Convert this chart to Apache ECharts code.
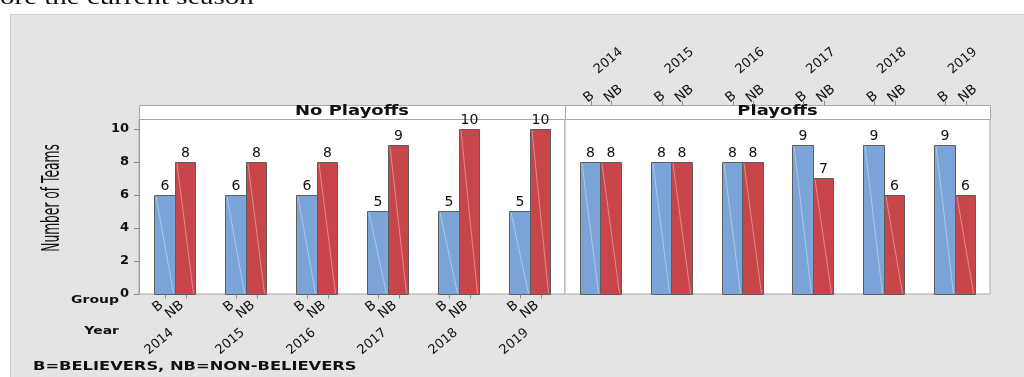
<!DOCTYPE html>
<html>
<head>
<meta charset="utf-8">
<script src="https://cdn.jsdelivr.net/npm/echarts@6/dist/echarts.min.js"></script>
<style>
  html, body { margin: 0; padding: 0; background: #ffffff; }
  #chart { width: 1024px; height: 377px; }
</style>
</head>
<body>
<div id="chart"></div>
<script>
// Team counts by season, split by playoff outcome and group
const years = ['2014', '2015', '2016', '2017', '2018', '2019'];
const groups = ['B', 'NB'];
const noPlayoffsB  = [6, 6, 6, 5, 5, 5];
const noPlayoffsNB = [8, 8, 8, 9, 10, 10];
const playoffsB    = [8, 8, 8, 9, 9, 9];
const playoffsNB   = [8, 8, 8, 7, 6, 6];
const yTicks = [0, 2, 4, 6, 8, 10];
const panelTitles = ['No Playoffs', 'Playoffs'];

// Panel layout (pixels)
const PANEL_LEFT = 139, PANEL_MID = 565, PANEL_RIGHT = 990;
const PLOT_TOP = 119, PLOT_BOTTOM = 294, STRIP_H = 14;
const Y_MAX = 10.6;
const BAR_FRAC = 0.29;          // bar width as a share of the category band
const SLANT = 40 * Math.PI / 180;

const FILLS = ['#7BA5D8', '#C8464A'];
const BAR_EDGE = '#5E5E5E';
const FONT = '"DejaVu Sans", "Noto Sans", sans-serif';

// Pixel span of bar k (0 = B, 1 = NB) in a category centred at cx
function barSpan(cx, catW, k) {
  const barW = catW * BAR_FRAC;
  const x0 = cx + (k - 1) * barW;
  const left = Math.round(x0) + 0.5;
  const right = Math.round(x0 + barW) + 0.5;
  return { left: left, right: right, mid: (left + right) / 2 };
}

function makeRenderer(labelsBelow) {
  return function (params, api) {
    const idx = api.value(0);
    const vals = [api.value(1), api.value(2)];
    const base = api.coord([idx, 0]);
    const catW = api.size([1, 0])[0];
    const stripTop = params.coordSys.y - STRIP_H;
    const bottom = Math.round(base[1]) + 0.5;
    const children = [];

    for (let k = 0; k < 2; k++) {
      const span = barSpan(base[0], catW, k);
      const top = Math.round(api.coord([idx, vals[k]])[1]) + 0.5;
      const tickX = Math.round(span.mid) + 0.5;

      children.push({
        type: 'rect',
        shape: { x: span.left, y: top, width: span.right - span.left, height: bottom - top },
        style: { fill: FILLS[k], stroke: BAR_EDGE, lineWidth: 1 }
      });
      children.push({
        type: 'line',
        shape: { x1: span.left + 1.5, y1: top + 1, x2: span.right - 2, y2: bottom - 1 },
        style: { stroke: 'rgba(255,255,255,0.38)', lineWidth: 1 }
      });
      children.push({
        type: 'text',
        style: {
          x: span.mid, y: top - 2,
          text: String(vals[k]), fill: '#111', font: '14px ' + FONT,
          align: 'center', verticalAlign: 'bottom',
          textAlign: 'center', textVerticalAlign: 'bottom'
        }
      });
      children.push({
        type: 'line',
        shape: labelsBelow
          ? { x1: tickX, y1: bottom, x2: tickX, y2: bottom + 4 }
          : { x1: tickX, y1: stripTop - 4, x2: tickX, y2: stripTop },
        style: { stroke: '#888', lineWidth: 1 }
      });
    }
    return { type: 'group', children: children };
  };
}

function seriesData(bVals, nbVals) {
  return years.map((y, i) => [i, bVals[i], nbVals[i]]);
}

// Slanted text reading upward to the right
function slantLabel(x, y, text, align, size) {
  return {
    type: 'text', z: 5, x: x, y: y, rotation: SLANT,
    style: {
      text: text, fill: '#111', font: size + 'px ' + FONT,
      align: align, verticalAlign: 'middle',
      textAlign: align, textVerticalAlign: 'middle'
    }
  };
}

function plainText(x, y, text, font, align, scaleY) {
  return {
    type: 'text', z: 1, x: x, y: y, scaleY: scaleY,
    style: {
      text: text, fill: '#111', font: font,
      align: align, verticalAlign: 'middle',
      textAlign: align, textVerticalAlign: 'middle'
    }
  };
}

const chart = echarts.init(document.getElementById('chart'), null, { renderer: 'canvas' });

const option = {
  animation: false,
  grid: [
    { left: PANEL_LEFT, top: PLOT_TOP, width: PANEL_MID - PANEL_LEFT, height: PLOT_BOTTOM - PLOT_TOP,
      show: true, backgroundColor: '#ffffff', borderColor: '#A8A8A8', borderWidth: 1 },
    { left: PANEL_MID, top: PLOT_TOP, width: PANEL_RIGHT - PANEL_MID, height: PLOT_BOTTOM - PLOT_TOP,
      show: true, backgroundColor: '#ffffff', borderColor: '#A8A8A8', borderWidth: 1 }
  ],
  xAxis: [
    { gridIndex: 0, type: 'category', data: years, boundaryGap: true, show: false },
    { gridIndex: 1, type: 'category', data: years, boundaryGap: true, show: false }
  ],
  yAxis: [
    {
      gridIndex: 0, type: 'value', min: 0, max: Y_MAX, interval: 2,
      axisLine: { show: true, lineStyle: { color: '#999', width: 1 } },
      axisTick: { show: true, length: 5, lineStyle: { color: '#888' }, customValues: yTicks },
      axisLabel: { show: true, margin: 10, color: '#111', fontFamily: 'DejaVu Sans',
        fontWeight: 'bold', fontSize: 13, customValues: yTicks },
      splitLine: { show: false }
    },
    { gridIndex: 1, type: 'value', min: 0, max: Y_MAX, interval: 2, show: false, splitLine: { show: false } }
  ],
  series: [
    {
      name: panelTitles[0], type: 'custom', xAxisIndex: 0, yAxisIndex: 0,
      renderItem: makeRenderer(true), data: seriesData(noPlayoffsB, noPlayoffsNB),
      encode: { x: 0, y: [1, 2] }, clip: false, z: 3
    },
    {
      name: panelTitles[1], type: 'custom', xAxisIndex: 1, yAxisIndex: 1,
      renderItem: makeRenderer(false), data: seriesData(playoffsB, playoffsNB),
      encode: { x: 0, y: [1, 2] }, clip: false, z: 3
    }
  ]
};

chart.setOption(option);

// Frame, strips, titles and the slanted group / year labels
const elements = [
  {
    type: 'rect', z: -100,
    shape: { x: 10.5, y: 14.5, width: 1030, height: 380 },
    style: { fill: '#E4E4E4', stroke: '#CDCDCD', lineWidth: 1 }
  },
  plainText(-37, -1.5, 'before the current season',
    '29px "Liberation Serif", "DejaVu Serif", serif', 'left', 0.7),
  {
    type: 'text', z: 1, x: 52, y: 198, rotation: Math.PI / 2, scaleX: 0.49,
    style: {
      text: 'Number of Teams', fill: '#111', font: '25px ' + FONT,
      align: 'center', verticalAlign: 'middle',
      textAlign: 'center', textVerticalAlign: 'middle'
    }
  },
  plainText(119, 300, 'Group', 'bold 14px ' + FONT, 'right', 0.8),
  plainText(119, 331, 'Year', 'bold 14px ' + FONT, 'right', 0.8),
  plainText(33, 367, 'B=BELIEVERS, NB=NON-BELIEVERS', 'bold 16.3px ' + FONT, 'left', 0.72)
];

[[PANEL_LEFT, PANEL_MID], [PANEL_MID, PANEL_RIGHT]].forEach((p, g) => {
  elements.push({
    type: 'rect', z: 1,
    shape: { x: p[0] + 0.5, y: PLOT_TOP - STRIP_H + 0.5, width: p[1] - p[0], height: STRIP_H },
    style: { fill: '#ffffff', stroke: '#A8A8A8', lineWidth: 1 }
  });
  elements.push(Object.assign(
    plainText((p[0] + p[1]) / 2, PLOT_TOP - STRIP_H / 2 - 0.5, panelTitles[g], 'bold 18px ' + FONT, 'center', 0.82),
    { z: 2 }));

  const below = g === 0;
  const c0 = chart.convertToPixel({ gridIndex: g }, [0, 0]);
  const c1 = chart.convertToPixel({ gridIndex: g }, [1, 0]);
  const catW = c1[0] - c0[0];
  years.forEach((yr, i) => {
    const c = chart.convertToPixel({ gridIndex: g }, [i, 0]);
    const bottom = Math.round(c[1]) + 0.5;
    const stripTop = PLOT_TOP - STRIP_H;
    groups.forEach((grp, k) => {
      const span = barSpan(c[0], catW, k);
      elements.push(below
        ? slantLabel(span.mid - 3.5, bottom + 9, grp, 'right', 13.5)
        : slantLabel(span.mid - 5, stripTop - 5, grp, 'left', 13.5));
    });
    elements.push(below
      ? slantLabel(c[0] - 2.5, bottom + 36.5, yr, 'right', 13)
      : slantLabel(c[0] - 4.5, stripTop - 33.5, yr, 'left', 13));
  });
});

chart.setOption({ graphic: { elements: elements } });
</script>
</body>
</html>
